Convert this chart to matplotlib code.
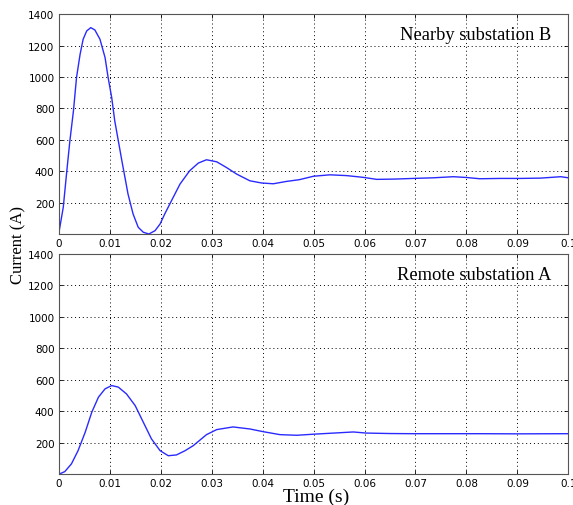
import matplotlib
matplotlib.use("Agg")
import matplotlib.pyplot as plt
import numpy as np

# Nearby substation B (top)
t_b = [0, 0.0009, 0.0016, 0.0022, 0.0029, 0.0035, 0.0042, 0.0048, 0.0055, 0.0063,
       0.0071, 0.0081, 0.0091, 0.0097, 0.0104, 0.0110, 0.0117, 0.0124, 0.0130,
       0.0136, 0.0146, 0.0156, 0.0166, 0.0177, 0.0189, 0.0199, 0.0208, 0.0218,
       0.0238, 0.0257, 0.0274, 0.0290, 0.0310, 0.0329, 0.0349, 0.0375, 0.0398,
       0.0421, 0.0447, 0.0472, 0.0500, 0.0532, 0.0565, 0.0597, 0.0624, 0.0660,
       0.0695, 0.0735, 0.0774, 0.0800, 0.0826, 0.0866, 0.0906, 0.0945, 0.0985, 0.1]
i_b = [0, 170, 403, 594, 785, 997, 1145, 1241, 1294, 1315,
       1300, 1241, 1124, 997, 870, 721, 594, 466, 361,
       255, 127, 43, 11, 0, 21, 64, 127, 191,
       318, 403, 452, 473, 460, 424, 382, 339, 325,
       320, 335, 346, 368, 377, 372, 361, 348, 350,
       354, 358, 365, 360, 352, 354, 354, 356, 365, 358]

# Remote substation A (bottom)
t_a = [0, 0.0012, 0.0025, 0.0038, 0.0052, 0.0065, 0.0078, 0.0091, 0.0104, 0.0117,
       0.0133, 0.0150, 0.0166, 0.0182, 0.0199, 0.0215, 0.0231, 0.0248, 0.0264,
       0.0290, 0.0310, 0.0342, 0.0375, 0.0401, 0.0434, 0.0467, 0.0506, 0.0540,
       0.0578, 0.0603, 0.0650, 0.0695, 0.0760, 0.0826, 0.0900, 0.1]
i_a = [0, 17, 66, 150, 267, 395, 490, 543, 564, 554,
       511, 437, 331, 225, 150, 118, 123, 150, 182,
       252, 284, 301, 288, 271, 252, 248, 256, 262,
       269, 262, 259, 258, 258, 258, 257, 258]

labels = ["Nearby substation B", "Remote substation A"]
xticks = np.arange(0, 0.1001, 0.01)
xticklabels = ["0", "0.01", "0.02", "0.03", "0.04", "0.05", "0.06", "0.07", "0.08", "0.09", "0.1"]
yticks = [200, 400, 600, 800, 1000, 1200, 1400]

fig = plt.figure(figsize=(5.73, 5.06), dpi=100)
ax1 = fig.add_axes([0.1024, 0.5356, 0.8896, 0.4342])
ax2 = fig.add_axes([0.1024, 0.0607, 0.8896, 0.4353])

for ax, t, i, lab in [(ax1, t_b, i_b, labels[0]), (ax2, t_a, i_a, labels[1])]:
    ax.plot(t, i, color="#2a2aff", lw=1.0, solid_joinstyle="round")
    ax.set_xlim(0, 0.1)
    ax.set_ylim(0, 1400)
    ax.set_xticks(xticks)
    ax.set_xticklabels(xticklabels)
    ax.set_yticks(yticks)
    ax.tick_params(direction="in", top=True, right=True, labelsize=7.5,
                   length=3, width=0.6, pad=3)
    ax.grid(True, color="black", linestyle=(0, (1, 3)), linewidth=0.7)
    for s in ax.spines.values():
        s.set_color("#555555")
        s.set_linewidth(0.8)
    ax.text(0.967, 0.907, lab, transform=ax.transAxes, ha="right", va="center",
            family="Liberation Serif", fontsize=13.3)

fig.text(0.032, 0.515, "Current (A)", rotation=90, ha="center", va="center",
         family="Liberation Serif", fontsize=12)
fig.text(0.552, 0.018, "Time (s)", ha="center", va="center",
         family="Liberation Serif", fontsize=14)

fig.savefig("out.png", dpi=100)
